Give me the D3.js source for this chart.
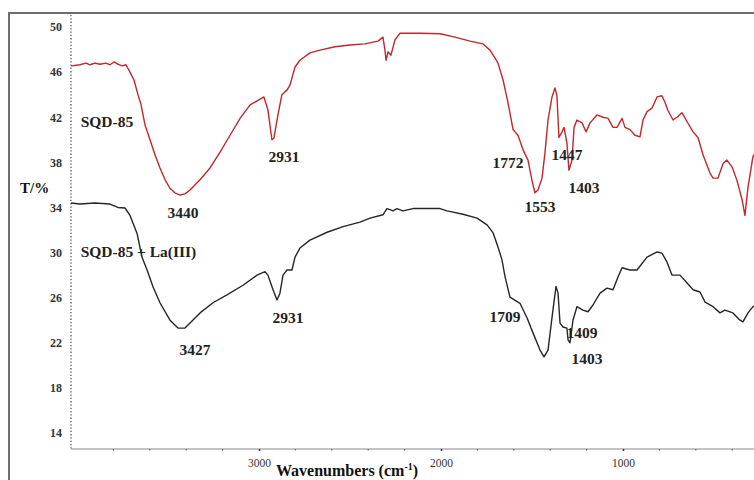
<!DOCTYPE html>
<html>
<head>
<meta charset="utf-8">
<script src="https://cdn.jsdelivr.net/npm/d3@7"></script>
<style>
  body { margin: 0; background: #fff; }
  svg { display: block; font-family: "Liberation Serif", "Times New Roman", serif; }
</style>
</head>
<body>
<div id="chart"></div>
<script>
// FTIR spectra, wavenumber (cm-1) vs transmittance T/%
var sqd85 = [
  [4033,46.55],[3984,46.65],[3950,46.8],[3929,46.65],[3901,46.8],[3874,46.7],[3841,46.8],[3819,46.65],
  [3797,46.9],[3775,46.7],[3753,46.55],[3731,46.65],[3709,46.0],[3687,45.3],[3665,44.0],[3648,43.1],
  [3626,41.3],[3599,40.0],[3571,38.65],[3544,37.5],[3516,36.45],[3489,35.7],[3462,35.3],[3434,35.1],
  [3407,35.2],[3379,35.55],[3324,36.45],[3269,37.5],[3214,38.9],[3159,40.4],[3104,41.9],[3049,43.1],
  [3005,43.5],[2973,43.8],[2951,42.65],[2929,40.0],[2918,40.15],[2896,42.2],[2874,44.0],[2857,44.25],
  [2846,44.4],[2830,44.85],[2802,46.45],[2775,47.05],[2720,47.7],[2665,47.95],[2582,48.25],[2500,48.4],
  [2418,48.5],[2346,48.75],[2319,49.1],[2308,47.95],[2302,47.05],[2291,47.8],[2275,47.5],[2253,48.85],
  [2225,49.45],[2115,49.45],[2005,49.4],[1923,49.1],[1841,48.75],[1769,48.5],[1731,47.95],[1703,47.25],
  [1687,46.8],[1659,45.3],[1632,43.3],[1604,40.9],[1577,40.4],[1549,39.1],[1522,38.2],[1500,36.4],
  [1484,35.3],[1467,35.55],[1445,36.6],[1429,38.8],[1412,41.75],[1390,43.8],[1374,44.6],[1363,43.9],
  [1352,40.2],[1335,40.7],[1324,41.1],[1308,39.7],[1297,37.3],[1280,38.2],[1269,41.1],[1253,41.75],
  [1225,41.5],[1203,40.7],[1181,41.5],[1143,42.2],[1110,42.0],[1082,41.9],[1055,41.1],[1033,41.1],
  [1005,41.9],[989,41.1],[962,40.9],[934,40.4],[907,40.25],[890,41.75],[868,42.5],[841,42.8],
  [813,43.8],[786,43.9],[769,43.3],[753,42.6],[725,41.75],[703,42.0],[676,42.4],[648,41.6],
  [615,40.7],[588,40.2],[560,38.65],[522,37.05],[505,36.6],[478,36.6],[450,37.9],[429,38.2],
  [401,37.6],[374,36.4],[346,34.7],[330,33.3],[313,35.8],[286,38.5],[264,39.1]
];

var sqd85La = [
  [4033,34.4],[3984,34.3],[3901,34.4],[3819,34.3],[3775,34.0],[3736,33.95],[3709,33.3],[3692,32.6],
  [3670,31.7],[3643,29.6],[3615,28.45],[3582,26.95],[3544,25.55],[3489,24.0],[3445,23.3],[3407,23.3],
  [3379,23.75],[3324,24.65],[3253,25.55],[3176,26.25],[3088,27.1],[3011,28.0],[2967,28.3],[2951,28.0],
  [2923,26.7],[2901,25.8],[2885,26.4],[2868,28.0],[2846,28.45],[2819,28.45],[2802,29.6],[2775,30.4],
  [2720,31.1],[2626,31.8],[2538,32.3],[2445,32.7],[2390,33.05],[2319,33.35],[2297,33.9],[2280,33.8],
  [2264,33.7],[2242,33.9],[2209,33.7],[2154,33.9],[2005,33.9],[1967,33.7],[1879,33.4],[1802,33.05],
  [1747,32.45],[1714,31.75],[1687,30.5],[1665,29.35],[1648,27.85],[1621,26.05],[1566,25.5],[1527,24.2],
  [1495,22.9],[1456,21.35],[1434,20.75],[1412,21.35],[1385,24.9],[1368,27.0],[1357,26.4],[1346,23.75],
  [1330,23.4],[1308,23.3],[1302,22.25],[1291,22.0],[1275,24.0],[1253,25.2],[1220,24.9],[1192,24.75],
  [1165,25.35],[1126,26.4],[1088,26.85],[1055,26.7],[1027,27.85],[1005,28.65],[962,28.45],[923,28.45],
  [868,29.6],[813,30.05],[786,29.95],[758,29.15],[731,28.0],[687,28.0],[648,27.3],[615,26.7],
  [577,26.5],[549,25.6],[505,25.2],[467,24.65],[440,24.9],[396,24.65],[357,24.0],[341,23.85],
  [313,24.65],[286,25.2],[264,25.35]
];

// peak labels: text, anchor wavenumber, anchor T (text centre / baseline)
var peaksRed = [
  ["3440", 3418, 33.06], ["2931", 2863, 38.03], ["1772", 1632, 37.5],
  ["1553", 1456, 33.6], ["1447", 1308, 38.2], ["1403", 1214, 35.28]
];
var peaksBlack = [
  ["3427", 3352, 20.92], ["2931", 2841, 23.75], ["1709", 1648, 23.84],
  ["1409", 1225, 22.42], ["1403", 1198, 20.12]
];
var seriesNames = ["SQD-85", "SQD-85 + La(III)"];
var seriesNamePos = [[3980, 41.1], [3980, 29.6]];

var yTicks = [14, 18, 22, 26, 30, 34, 38, 42, 46, 50];
var xTicks = [3000, 2000, 1000];
var xMinor = d3.range(3800, 200, -200);

var W = 754, H = 480;
var plotLeft = 71, plotTop = 13, plotBottom = 449;

var x = d3.scaleLinear().domain([4033, 1000]).range([plotLeft, 623]);
var y = d3.scaleLinear().domain([50, 14]).range([27, 433]);

var svg = d3.select("#chart").append("svg")
  .attr("width", W)
  .attr("height", H);

svg.append("defs").append("clipPath").attr("id", "plotclip")
  .append("rect")
  .attr("x", plotLeft).attr("y", plotTop)
  .attr("width", W - plotLeft).attr("height", plotBottom - plotTop);

// outer frame (left + top)
svg.append("path")
  .attr("d", "M9," + H + "V" + plotTop + "H" + W)
  .attr("fill", "none")
  .attr("stroke", "#6e6e6e")
  .attr("stroke-width", 2);

// y axis: dotted
var yaxis = svg.append("g")
  .attr("transform", "translate(" + plotLeft + ",0)")
  .call(d3.axisLeft(y).tickValues(yTicks).tickSize(0).tickPadding(9));
yaxis.select(".domain").remove();
yaxis.append("line")
  .attr("x1", 0).attr("x2", 0)
  .attr("y1", plotTop + 2).attr("y2", plotBottom)
  .attr("stroke", "#555")
  .attr("stroke-width", 1.3)
  .attr("stroke-dasharray", "1.3,2");
yaxis.selectAll("text")
  .attr("font-family", "Liberation Serif")
  .attr("font-size", 12)
  .attr("font-weight", "bold")
  .attr("fill", "#333");

// x axis
var xaxis = svg.append("g")
  .attr("transform", "translate(0," + plotBottom + ")")
  .call(d3.axisBottom(x).tickValues(xTicks).tickSize(2).tickPadding(8).tickFormat(d3.format("d")));
xaxis.select(".domain").remove();
xaxis.insert("line", ":first-child")
  .attr("x1", plotLeft).attr("x2", W)
  .attr("y1", 0).attr("y2", 0)
  .attr("stroke", "#8a8a8a")
  .attr("stroke-width", 1.2);
xaxis.selectAll(".tick line").attr("stroke", "#333").attr("stroke-width", 1.5);
xaxis.selectAll("text")
  .attr("font-family", "Liberation Serif")
  .attr("font-size", 11.5)
  .attr("fill", "#333");
xaxis.selectAll(".minor")
  .data(xMinor.filter(function(d) { return xTicks.indexOf(d) < 0; }))
  .enter().append("line")
  .attr("class", "minor")
  .attr("x1", function(d) { return x(d); })
  .attr("x2", function(d) { return x(d); })
  .attr("y1", 0).attr("y2", 1.5)
  .attr("stroke", "#666")
  .attr("stroke-width", 1.2);

// titles
svg.append("text")
  .attr("x", 20).attr("y", 193)
  .attr("font-size", 15)
  .attr("font-weight", "bold")
  .attr("fill", "#111")
  .text("T/%");

var xt = svg.append("text")
  .attr("x", 347).attr("y", 476)
  .attr("text-anchor", "middle")
  .attr("font-size", 16)
  .attr("font-weight", "bold")
  .attr("fill", "#111");
xt.append("tspan").text("Wavenumbers (cm");
xt.append("tspan").attr("font-size", 10).attr("dy", -6).text("-1");
xt.append("tspan").attr("dy", 6).text(")");

// spectra
var line = d3.line()
  .x(function(d) { return x(d[0]); })
  .y(function(d) { return y(d[1]); });

var plot = svg.append("g").attr("clip-path", "url(#plotclip)");

plot.append("path")
  .datum(sqd85)
  .attr("d", line)
  .attr("fill", "none")
  .attr("stroke", "#c3262b")
  .attr("stroke-width", 1.4)
  .attr("stroke-linejoin", "round");

plot.append("path")
  .datum(sqd85La)
  .attr("d", line)
  .attr("fill", "none")
  .attr("stroke", "#262626")
  .attr("stroke-width", 1.4)
  .attr("stroke-linejoin", "round");

// labels
svg.selectAll(".sname")
  .data(seriesNames)
  .enter().append("text")
  .attr("class", "sname")
  .attr("x", function(d, i) { return x(seriesNamePos[i][0]); })
  .attr("y", function(d, i) { return y(seriesNamePos[i][1]); })
  .attr("font-size", 15.5)
  .attr("font-weight", "bold")
  .attr("fill", "#222")
  .text(function(d) { return d; });

svg.selectAll(".peak")
  .data(peaksRed.concat(peaksBlack))
  .enter().append("text")
  .attr("class", "peak")
  .attr("x", function(d) { return x(d[1]); })
  .attr("y", function(d) { return y(d[2]); })
  .attr("text-anchor", "middle")
  .attr("font-size", 15.5)
  .attr("font-weight", "bold")
  .attr("fill", "#222")
  .text(function(d) { return d[0]; });
</script>
</body>
</html>
